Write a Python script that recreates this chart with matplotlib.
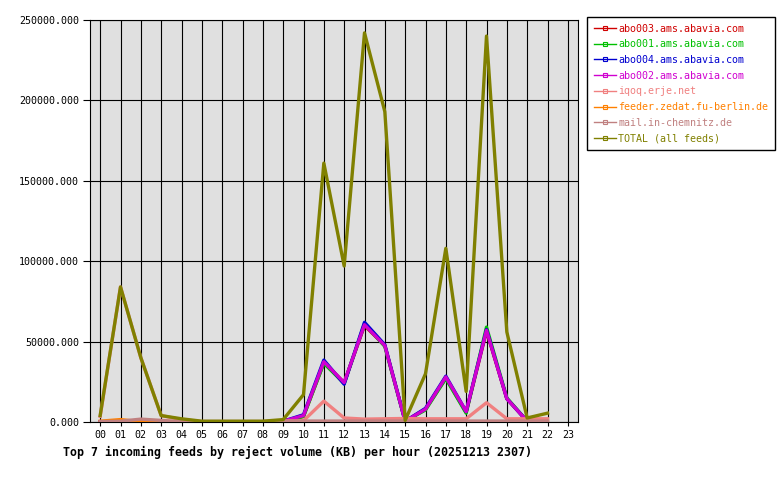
# Top 7 incoming feeds by reject volume, per hour
import matplotlib
matplotlib.use("Agg")
import matplotlib.pyplot as plt
from matplotlib.lines import Line2D
from matplotlib.ticker import FormatStrFormatter

hours = [f"{h:02d}" for h in range(24)]

feeds = [
    "abo003.ams.abavia.com",
    "abo001.ams.abavia.com",
    "abo004.ams.abavia.com",
    "abo002.ams.abavia.com",
    "iqoq.erje.net",
    "feeder.zedat.fu-berlin.de",
    "mail.in-chemnitz.de",
    "TOTAL (all feeds)",
]
colors = ["#d00000", "#00c000", "#0000d0", "#d000d0",
          "#f08080", "#ff8000", "#c08080", "#808000"]

abo003 = [0, 0, 0, 0, 0, 0, 0, 0, 0, 500, 3500, 37000, 24500, 60000, 47500,
          500, 8000, 27500, 6000, 56500, 14500, 500]
abo001 = [0, 0, 0, 0, 0, 0, 0, 0, 0, 500, 3500, 36500, 24000, 61000, 47000,
          500, 7500, 27000, 5500, 59000, 15000, 500]
abo004 = [0, 0, 0, 0, 300, 0, 0, 0, 0, 500, 4500, 38500, 23500, 62000, 48000,
          500, 8500, 28500, 6500, 57500, 14500, 500]
abo002 = [0, 0, 0, 0, 0, 0, 0, 0, 0, 500, 4000, 37500, 24500, 60500, 47500,
          500, 8000, 28000, 6500, 57000, 14500, 500]
iqoq = [3500, 84000, 40000, 4000, 1500, 200, 200, 200, 200, 600, 800, 13000,
        2500, 1800, 2000, 2200, 2000, 2000, 2000, 12000, 2000, 2000, 2000]
feeder = [500, 1500, 200, 100, 0, 0, 0, 0, 0, 0, 0, 0, 0, 0, 0, 0, 0, 0, 0,
          0, 0, 0, 0]
mail = [300, 500, 1800, 1000, 300, 300, 300, 300, 300, 500, 600, 600, 600,
        600, 600, 600, 600, 600, 600, 600, 600, 600, 600]
total = [4000, 84000, 40000, 4000, 2000, 500, 500, 500, 500, 1500, 17000,
         161000, 97000, 242000, 193000, 1000, 30000, 108000, 19000, 240000,
         56000, 2500, 5500]

series = [abo003, abo001, abo004, abo002, iqoq, feeder, mail, total]

mono = "DejaVu Sans Mono"

fig = plt.figure(figsize=(7.8, 4.8), dpi=100)
ax = fig.add_axes([90 / 780, 58 / 480, 488 / 780, 402 / 480])
ax.set_facecolor("#e0e0e0")

for vals, c in zip(series, colors):
    ax.plot(range(len(vals)), vals, color=c, linewidth=2.4, zorder=3)

ax.set_xlim(-0.5, 23.5)
ax.set_ylim(0, 250000)
ax.set_xticks(range(24))
ax.set_xticklabels(hours, family=mono, fontsize=7.2)
ax.set_yticks(range(0, 250001, 50000))
ax.yaxis.set_major_formatter(FormatStrFormatter("%.3f"))
for lab in ax.get_yticklabels():
    lab.set_family(mono)
    lab.set_fontsize(7.2)
ax.tick_params(axis="y", length=5, width=0.8, pad=3, color="black")
ax.tick_params(axis="x", length=3, width=0.8, pad=3, color="black")
ax.grid(True, color="black", linewidth=0.8, zorder=1)
ax.set_axisbelow(True)
for sp in ax.spines.values():
    sp.set_color("black")
    sp.set_linewidth(0.8)

handles = [Line2D([0], [0], color=c, linewidth=1.0, marker="s", markersize=3,
                  markerfacecolor="none", markeredgewidth=0.8)
           for c in colors]
leg = fig.legend(handles, feeds, loc="upper left",
                 bbox_to_anchor=(587 / 780, 1 - 17 / 480),
                 prop={"family": mono, "size": 7.2}, fancybox=False,
                 framealpha=1, edgecolor="black", handlelength=2.2,
                 handletextpad=0.3, labelspacing=0.57, borderpad=0.65,
                 borderaxespad=0)
leg.get_frame().set_linewidth(1.0)
for txt, c in zip(leg.get_texts(), colors):
    txt.set_color(c)

fig.text(63 / 780, 1 - 452 / 480,
         "Top 7 incoming feeds by reject volume (KB) per hour (20251213 2307)",
         family=mono, fontsize=8.35, fontweight="bold", va="center", ha="left")

fig.savefig("out.png", dpi=100)
